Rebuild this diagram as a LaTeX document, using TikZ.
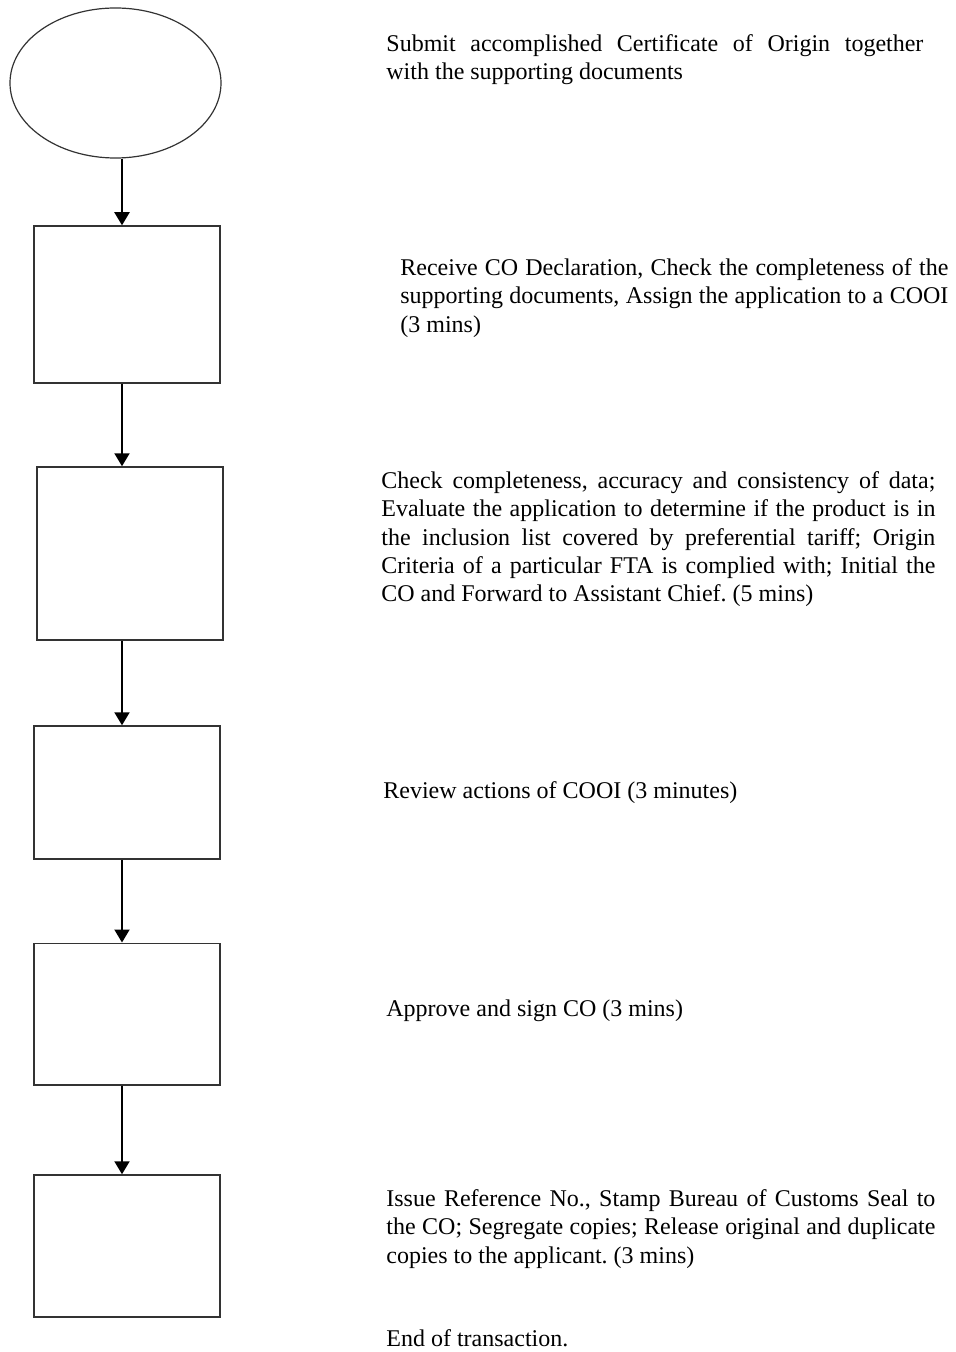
\documentclass[tikz,border=0pt]{standalone}
\usepackage{fontspec}
\setmainfont{Liberation Serif}
\usetikzlibrary{shapes.geometric,arrows.meta}
\frenchspacing
\tikzset{
  stepbox/.style={draw=black!80,line width=0.75pt,minimum width=93pt,inner sep=0pt},
  flow/.style={line width=1pt,-{Triangle[length=6.5pt,width=7.5pt]}},
  desc/.style={anchor=north west,inner sep=0pt,align=justify,font=\fontsize{12}{14.2}\selectfont},
}
\begin{document}
\begin{tikzpicture}[x=0.5pt,y=-0.5pt]
  \useasboundingbox (0,0) rectangle (955,1352);
  \coordinate (axis) at (122,0);
  \node[ellipse,draw=black!80,line width=0.6pt,minimum width=105.5pt,minimum height=75pt,inner sep=0pt] (start) at (115.5,83) {};
  \node[stepbox,minimum height=78.5pt] (receive) at (127,304.5) {};
  \node[stepbox,minimum height=86.5pt] (check) at (130,553.5) {};
  \node[stepbox,minimum height=66.5pt] (review) at (127,792.5) {};
  \node[stepbox,minimum height=70.75pt] (approve) at (127,1014) {};
  \node[stepbox,minimum height=71pt] (issue) at (127,1246) {};
  \draw[flow] (start.south -| axis) -- (receive.north -| axis);
  \draw[flow] (receive.south -| axis) -- (check.north -| axis);
  \draw[flow] (check.south -| axis) -- (review.north -| axis);
  \draw[flow] (review.south -| axis) -- (approve.north -| axis);
  \draw[flow] (approve.south -| axis) -- (issue.north -| axis);
  \node[desc,text width=268.5pt] (tstart) at (386,34) {Submit accomplished Certificate of Origin together\linebreak with the supporting documents};
  \node[desc,text width=274pt] (treceive) at (400,258) {Receive CO Declaration, Check the completeness of the\linebreak supporting documents, Assign the application to a COOI\linebreak (3 mins)};
  \node[desc,text width=277pt] (tcheck) at (381,471) {Check completeness, accuracy and consistency of data;\linebreak Evaluate the application to determine if the product is in\linebreak the inclusion list covered by preferential tariff; Origin\linebreak Criteria of a particular FTA is complied with; Initial the\linebreak CO and Forward to Assistant Chief. (5 mins)};
  \node[desc] (treview) at (383,781) {Review actions of COOI (3 minutes)};
  \node[desc] (tapprove) at (386,999) {Approve and sign CO (3 mins)};
  \node[desc,text width=274.5pt] (tissue) at (386,1189) {Issue Reference No., Stamp Bureau of Customs Seal to\linebreak the CO; Segregate copies; Release original and duplicate\linebreak copies to the applicant. (3 mins)};
  \node[desc] (tend) at (386,1329) {End of transaction.};
\end{tikzpicture}
\end{document}
